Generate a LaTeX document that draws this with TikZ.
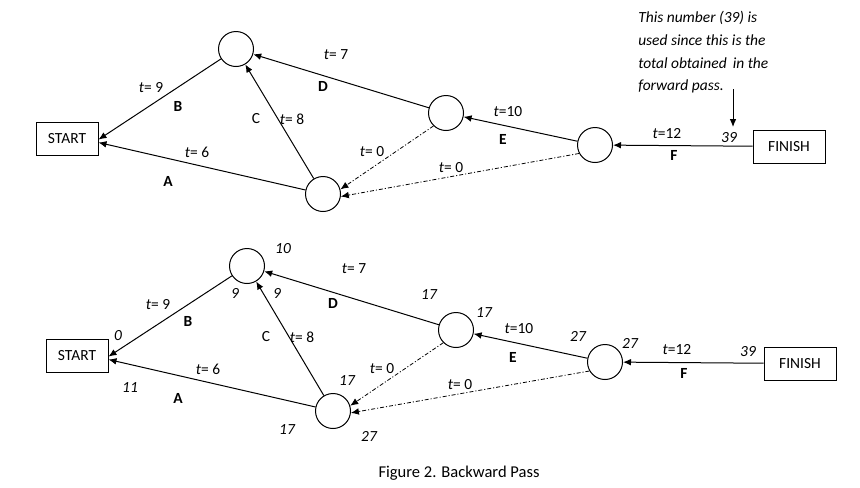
\documentclass[tikz,border=0pt]{standalone}
\usepackage{fontspec}
\setmainfont{Carlito}
\usetikzlibrary{arrows.meta}
\begin{document}
\begin{tikzpicture}[x=0.75pt,y=-0.75pt,
 every node/.style={font=\fontsize{11.6}{14}\selectfont, inner sep=1pt},
 box/.style={draw, line width=0.75pt, minimum width=46.5pt, minimum height=24.75pt, inner sep=0},
 evt/.style={draw, circle, line width=0.75pt, minimum size=26.25pt, inner sep=0},
 act/.style={line width=0.75pt, -{Latex[length=6pt,width=5pt]}},
 dmy/.style={line width=0.6pt, -{Latex[length=6pt,width=5pt]}, dash pattern=on 3pt off 1.5pt on 0.8pt off 1.5pt},
 num/.style={font=\fontsize{11.6}{14}\selectfont\itshape},
 lbl/.style={font=\fontsize{11.6}{14}\selectfont\bfseries},
 note/.style={font=\fontsize{11.6}{14}\selectfont\itshape, anchor=west, inner sep=0},
]
\useasboundingbox (0,0) rectangle (860,487);

% ---------- top diagram ----------
\node[box] (s1) at (67,138.5) {START};
\node[evt] (a1) at (236,49) {};
\node[evt] (b1) at (323,194) {};
\node[evt] (c1) at (446,113) {};
\node[evt] (d1) at (595,145) {};
\node[box, minimum width=54pt] (f1) at (789,146.5) {FINISH};

\draw[act] (a1) -- ([yshift=-0.8pt]s1.east);
\draw[act] (b1) -- ([yshift=-3pt]s1.east);
\draw[act] (b1) -- (a1);
\draw[act] (c1) -- (a1);
\draw[act] (d1) -- (c1);
\draw[act] (f1) -- (d1);
\draw[dmy] (c1.226) -- (b1.15);
\draw[dmy] (d1.208) -- (b1.-8);

\node at (151,88) {\textit{t}= 9};
\node[lbl] at (178,106) {B};
\node at (197,152) {\textit{t}= 6};
\node[lbl] at (168,181) {A};
\node at (256,119) {C};
\node at (292,119) {\textit{t}= 8};
\node at (336,55) {\textit{t}= 7};
\node[lbl] at (323,86) {D};
\node at (372,152) {\textit{t}= 0};
\node at (508,112) {\textit{t}=10};
\node[lbl] at (503,139) {E};
\node at (451,168) {\textit{t}= 0};
\node at (667,134) {\textit{t}=12};
\node[lbl] at (674,155) {F};
\node[num] (n39) at (729,138) {39};

\node[note] (l1) at (638,18) {This number (39) is};
\node[note] (l2) at (638,40) {used since this is the};
\node[note] (l3) at (638,63) {total obtained\, in the};
\node[note] (l4) at (638,86) {forward pass.};
\coordinate (ptr) at (733,89);
\draw[act] (ptr) -- (733,127);

% ---------- bottom diagram ----------
\node[box] (s2) at (77,355.5) {START};
\node[evt] (a2) at (247,266) {};
\node[evt] (b2) at (333,411) {};
\node[evt] (c2) at (456,330) {};
\node[evt] (d2) at (605,362) {};
\node[box, minimum width=54pt] (f2) at (800,363.5) {FINISH};

\draw[act] (a2) -- ([yshift=-0.8pt]s2.east);
\draw[act] (b2) -- ([yshift=-3pt]s2.east);
\draw[act] (b2) -- (a2);
\draw[act] (c2) -- (a2);
\draw[act] (d2) -- (c2);
\draw[act] (f2) -- (d2);
\draw[dmy] (c2.225) -- (b2.17);
\draw[dmy] (d2.210) -- (b2.-6);

\node[num] at (283,249) {10};
\node[num] at (235,293) {9};
\node[num] at (277,293) {9};
\node at (354,269) {\textit{t}= 7};
\node[lbl] at (333,303) {D};
\node[num] at (429,295) {17};
\node[num] at (484,313) {17};
\node at (158,305) {\textit{t}= 9};
\node[lbl] at (188,321) {B};
\node[num] at (118,336) {0};
\node at (266,337) {C};
\node at (302,337) {\textit{t}= 8};
\node at (208,369) {\textit{t}= 6};
\node[lbl] at (178,398) {A};
\node[num] at (130,388) {11};
\node at (382,369) {\textit{t}= 0};
\node[num] at (347,381) {17};
\node[num] at (287,430) {17};
\node[num] at (369,436) {27};
\node at (519,329) {\textit{t}=10};
\node[lbl] at (513,357) {E};
\node[num] at (578,336) {27};
\node[num] at (630,343) {27};
\node at (677,350) {\textit{t}=12};
\node[lbl] at (684,373) {F};
\node[num] at (748,352) {39};
\node at (460,385) {\textit{t}= 0};

\node[font=\fontsize{12.4}{15}\selectfont] (cap) at (459,473) {Figure 2. Backward Pass};
\end{tikzpicture}
\end{document}
